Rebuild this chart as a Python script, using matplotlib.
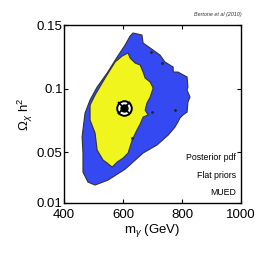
import matplotlib
matplotlib.use('Agg')
import matplotlib.pyplot as plt

plt.rcParams['font.family'] = ['Liberation Sans', 'DejaVu Sans']
plt.rcParams['mathtext.fontset'] = 'custom'
plt.rcParams['mathtext.rm'] = 'Liberation Sans'
plt.rcParams['mathtext.it'] = 'Liberation Sans:italic'

# 95% region (blue), m_gamma [GeV] vs Omega h^2
blue_m = [634, 664, 668, 692, 725, 742, 770, 770, 786, 817, 820, 817, 827, 820,
          817, 803, 793, 786, 776, 753, 715, 668, 607, 549, 505, 481, 464, 464,
          461, 471, 488, 512, 546, 580, 607, 624]
blue_om = [0.1437, 0.1421, 0.1358, 0.1319, 0.1264, 0.1209, 0.1169, 0.1130, 0.1130,
           0.1091, 0.1012, 0.0988, 0.0933, 0.0894, 0.0815, 0.0792, 0.0768, 0.0737,
           0.0697, 0.0634, 0.0556, 0.0493, 0.0366, 0.0280, 0.0241, 0.0264, 0.0343,
           0.0493, 0.0619, 0.0807, 0.0910, 0.1012, 0.1122, 0.1248, 0.1343, 0.1413]

# 68% region (yellow)
yel_m = [617, 624, 641, 658, 668, 675, 692, 702, 692, 681, 675, 685, 668, 658,
         647, 631, 617, 600, 580, 563, 546, 532, 512, 505, 488, 488, 505, 539,
         573, 597]
yel_om = [0.1280, 0.1240, 0.1201, 0.1185, 0.1130, 0.1083, 0.1051, 0.1004, 0.0933,
          0.0886, 0.0831, 0.0792, 0.0776, 0.0721, 0.0674, 0.0595, 0.0493, 0.0453,
          0.0422, 0.0382, 0.0414, 0.0438, 0.0516, 0.0650, 0.0752, 0.0870, 0.0949,
          0.1083, 0.1209, 0.1256]

# small isolated islands
dot_m = [695, 732, 698, 776, 631]
dot_om = [0.1288, 0.1201, 0.0815, 0.0831, 0.0611]

best_m = [603]
best_om = [0.0847]

xticks = [400, 600, 800, 1000]
yticks = [0.01, 0.05, 0.1, 0.15]
ytick_labels = ['0.01', '0.05', '0.1', '0.15']

fig = plt.figure(figsize=(2.66, 2.66), dpi=100)
ax = fig.add_axes([0.241, 0.237, 0.665, 0.669])

ax.fill(blue_m, blue_om, facecolor='#3449f2', edgecolor='#333333', linewidth=0.8)
ax.fill(yel_m, yel_om, facecolor='#f0f51e', edgecolor='#333333', linewidth=0.8)
ax.plot(dot_m, dot_om, 'o', color='#222222', markersize=1.0, linestyle='none')

# best fit point
ax.plot(best_m, best_om, 'o', markersize=10.5, markerfacecolor='white',
        markeredgecolor='black', markeredgewidth=1.4)
ax.plot(best_m, best_om, 'x', markersize=8, color='black', markeredgewidth=1.3)
ax.plot(best_m, best_om, 'o', markersize=5, color='black')

ax.set_xlim(400, 1000)
ax.set_ylim(0.01, 0.15)
ax.set_xticks(xticks)
ax.set_yticks(yticks)
ax.set_yticklabels(ytick_labels)
ax.tick_params(direction='in', top=True, right=True, length=3, width=0.8,
               labelsize=9.5)
ax.tick_params(axis='x', pad=4)
ax.tick_params(axis='y', pad=1)
for s in ax.spines.values():
    s.set_linewidth(1.0)

ax.set_xlabel(r'm$_\gamma$ (GeV)', fontsize=9.5, labelpad=1)
ax.set_ylabel(r'$\Omega_\chi\ \mathrm{h}^2$', fontsize=9.5, labelpad=1)

ax.text(0.972, 0.253, 'Posterior pdf', transform=ax.transAxes, ha='right',
        va='center', fontsize=6.3)
ax.text(0.972, 0.152, 'Flat priors', transform=ax.transAxes, ha='right',
        va='center', fontsize=6.3)
ax.text(0.972, 0.056, 'MUED', transform=ax.transAxes, ha='right',
        va='center', fontsize=6.3)

fig.text(0.908, 0.944, 'Bertone et al (2010)', ha='right', va='center',
         fontsize=3.9, style='italic', color='#333333')

fig.savefig('out.png', dpi=100)
